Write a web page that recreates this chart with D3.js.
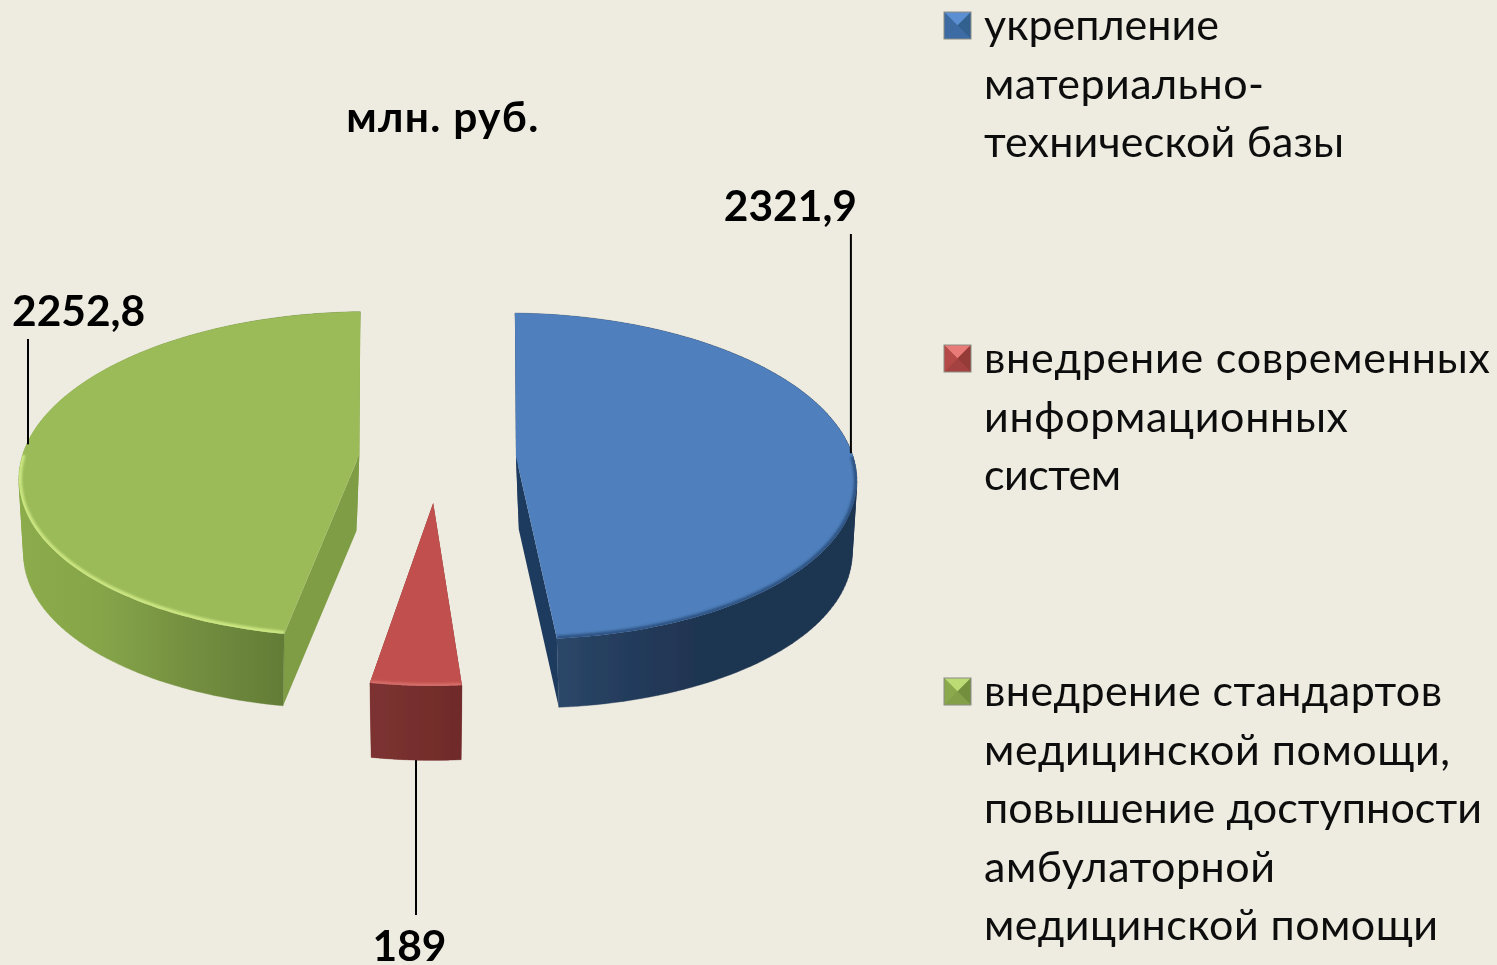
<!DOCTYPE html>
<html><head><meta charset="utf-8">
<script src="https://cdn.jsdelivr.net/npm/d3@7/dist/d3.min.js"></script>
<style>html,body{margin:0;padding:0;background:#eeece1;overflow:hidden}svg{display:block}</style>
</head><body><svg id="c" width="1497" height="965"></svg>
<script>
const categories = ["укрепление материально-технической базы","внедрение современных информационных систем","внедрение стандартов медицинской помощи, повышение доступности амбулаторной медицинской помощи"];
const values = [2321.9, 189, 2252.8];
const valueLabels = ["2321,9","189","2252,8"];
const legendLines = [["укрепление","материально-","технической базы"],["внедрение современных","информационных","систем"],["внедрение стандартов","медицинской помощи,","повышение доступности","амбулаторной","медицинской помощи"]];
const legendLineWidths = [[235,280,360],[506,364,137],[458,466,498,291,454]];
const topColors = ["#4f7fbc","#c0504d","#9bbb59"];
const explode = [0.233,0.27,0.233];
const radii = [1,0.94,1];
const depths = [73,77,76];

const FONT = "Lato, 'Open Sans', 'Noto Sans', sans-serif";
const svg = d3.select("#c");
const defs = svg.append("defs");
svg.append("rect").attr("width",1497).attr("height",965).attr("fill","#eeece1");
defs.append("filter").attr("id","soft").append("feGaussianBlur").attr("stdDeviation",0.55);
defs.append("filter").attr("id","txt").attr("filterUnits","userSpaceOnUse").attr("x",0).attr("y",0).attr("width",1497).attr("height",965).append("feGaussianBlur").attr("stdDeviation",0.4);
defs.append("filter").attr("id","rimblur").attr("filterUnits","userSpaceOnUse").attr("x",0).attr("y",0).attr("width",1497).attr("height",965).append("feGaussianBlur").attr("stdDeviation",1.2);

const cx=437.5, cy=458, rx=337.5, ry=161, persp=0.12, shrink=0.978, backOverlap=1.4*Math.PI/180;
const xS=d3.scaleLinear().domain([-1,1]).range([cx-rx,cx+rx]);
const yS=d3.scaleLinear().domain([-1,1]).range([cy-ry,cy+ry]);
const project=(u,v)=>{const w=1/(1-persp*v);return [xS(u*w),yS(v*w)];};
const pie=d3.pie().sort(null).value(d=>d).startAngle(0).endAngle(2*Math.PI);
const arcs=pie(values);
const line=d3.line();

const wallStops=[
 [[558,"#2b4769"],[625,"#243c5c"],[700,"#1f3451"],[857,"#1f3451"]],
 [[370,"#7d3231"],[463,"#6f2b29"]],
 [[22,"#8cab4b"],[100,"#86a549"],[190,"#748f40"],[287,"#627c36"]]];
const cutColors=["#1f3b5e","#7a2f2e","#7e9d45"];
const rimColors=["#2f5585","#d66e6a","#cbe681"];

wallStops.forEach((st,i)=>{
  const g=defs.append("linearGradient").attr("id","wall"+i).attr("gradientUnits","userSpaceOnUse")
    .attr("x1",st[0][0]).attr("x2",st[st.length-1][0]).attr("y1",0).attr("y2",0);
  const sc=d3.scaleLinear().domain([st[0][0],st[st.length-1][0]]).range([0,1]);
  st.forEach(s=>g.append("stop").attr("offset",sc(s[0])).attr("stop-color",s[1]));
});

const chart=svg.append("g").attr("filter","url(#soft)");
arcs.forEach((d,i)=>{
  const a=d.startAngle+(i===0?backOverlap:0), b=d.endAngle-(i===2?backOverlap:0), mid=(d.startAngle+d.endAngle)/2;
  const u0=explode[i]*Math.sin(mid), v0=-explode[i]*Math.cos(mid), R=radii[i], dep=depths[i];
  const rimP=t=>project(u0+R*Math.sin(t),v0-R*Math.cos(t));
  const apex=project(u0,v0);
  const cen=project(u0+0.38*Math.sin(mid),v0-0.38*Math.cos(mid));
  const lower=p=>[cen[0]+(p[0]-cen[0])*shrink, cen[1]+(p[1]-cen[1])*shrink+dep];
  const ts=d3.range(0,121).map(k=>a+(b-a)*k/120);
  const rim=ts.map(rimP);
  const rimBottom=rim.map(lower);
  const g=chart.append("g");
  // radial cut faces
  [rim[0],rim[rim.length-1]].forEach(e=>{
    g.append("path").attr("d",line([apex,e,lower(e),lower(apex)])+"Z").attr("fill",cutColors[i]);
  });
  // outer wall: swept quads of the rim, in one path, all wound the same way
  const wall=d3.range(rim.length-1).map(k=>{
    const q=[rim[k],rim[k+1],rimBottom[k+1],rimBottom[k]];
    return line(d3.polygonArea(q)<0?q.reverse():q)+"Z";
  }).join("");
  g.append("path").attr("d",wall).attr("fill",`url(#wall${i})`).attr("stroke",`url(#wall${i})`).attr("stroke-width",0.4);
  // top face
  const topD=line([apex].concat(rim))+"Z";
  g.append("path").attr("d",topD).attr("fill",topColors[i]);
  defs.append("clipPath").attr("id","topclip"+i).append("path").attr("d",topD);
  // front rim bevel, kept inside the top face
  const lo=Math.max(a,Math.PI*0.5), hi=Math.min(b,Math.PI*1.5);
  const fr=d3.range(0,61).map(k=>rimP(lo+(hi-lo)*k/60));
  g.append("g").attr("clip-path",`url(#topclip${i})`).append("path").attr("d",line(fr)).attr("fill","none").attr("stroke",rimColors[i])
    .attr("stroke-width",i===1?5:6).attr("filter","url(#rimblur)");
  // leader
  const mp=rimP(mid);
  const anchor=i===1?lower(mp):mp;
  const labelEnd=[234,915,339][i];
  const lx=anchor[0];
  svg.append("line").attr("x1",lx).attr("x2",lx).attr("y1",labelEnd).attr("y2",anchor[1]+(i===1?0:3))
    .attr("stroke","#000").attr("stroke-width",2);
});

// value labels
const labelPos=[[857,221,"end"],[409.5,961,"middle"],[12,326,"start"]];
const texts=svg.append("g").attr("filter","url(#txt)");
valueLabels.forEach((t,i)=>{
  texts.append("text").attr("class","vl").attr("x",labelPos[i][0]).attr("y",labelPos[i][1]).attr("text-anchor",labelPos[i][2])
   .attr("font-family",FONT).attr("font-weight",700).attr("font-size",42.5).attr("fill","#000").text(t);
});
texts.append("text").attr("x",443).attr("y",132).attr("text-anchor","middle")
   .attr("font-family",FONT).attr("font-weight",700).attr("font-size",42.5).attr("letter-spacing",1.3).attr("fill","#000").text("млн. руб.");

// legend
const legendTop=[12,345,678], markerSize=27, lineStep=58.5;
const shade=[["#5b8fd2","#3d6aa1","#33608f","#3c6ca5"],["#e87a77","#b54a47","#943a37","#a34240"],["#bddb74","#8ba84e","#738e3e","#84a04a"]];
legendLines.forEach((lines,i)=>{
  const y=legendTop[i], x=944, s=markerSize, c=[x+s/2,y+s/2];
  const cor=[[x,y],[x+s,y],[x+s,y+s],[x,y+s]];
  const m=svg.append("g").attr("filter","url(#soft)");
  m.append("rect").attr("x",x).attr("y",y).attr("width",s).attr("height",s).attr("fill",shade[i][3]);
  [[0,1,0],[1,2,2],[2,3,3],[3,0,1]].forEach(o=>{
    m.append("path").attr("d",line([cor[o[0]],cor[o[1]],c])+"Z").attr("fill",shade[i][o[2]]);
  });
  m.append("rect").attr("x",x).attr("y",y).attr("width",s).attr("height",s).attr("fill","none").attr("stroke","#8c8c86").attr("stroke-width",1);
  lines.forEach((t,k)=>{
    texts.append("text").attr("class","lg").attr("x",984).attr("y",y+28+k*lineStep)
      .attr("font-family",FONT).attr("font-size",43).attr("textLength",legendLineWidths[i][k]).attr("lengthAdjust","spacing").attr("fill","#111").text(t);
  });
});
</script></body></html>
